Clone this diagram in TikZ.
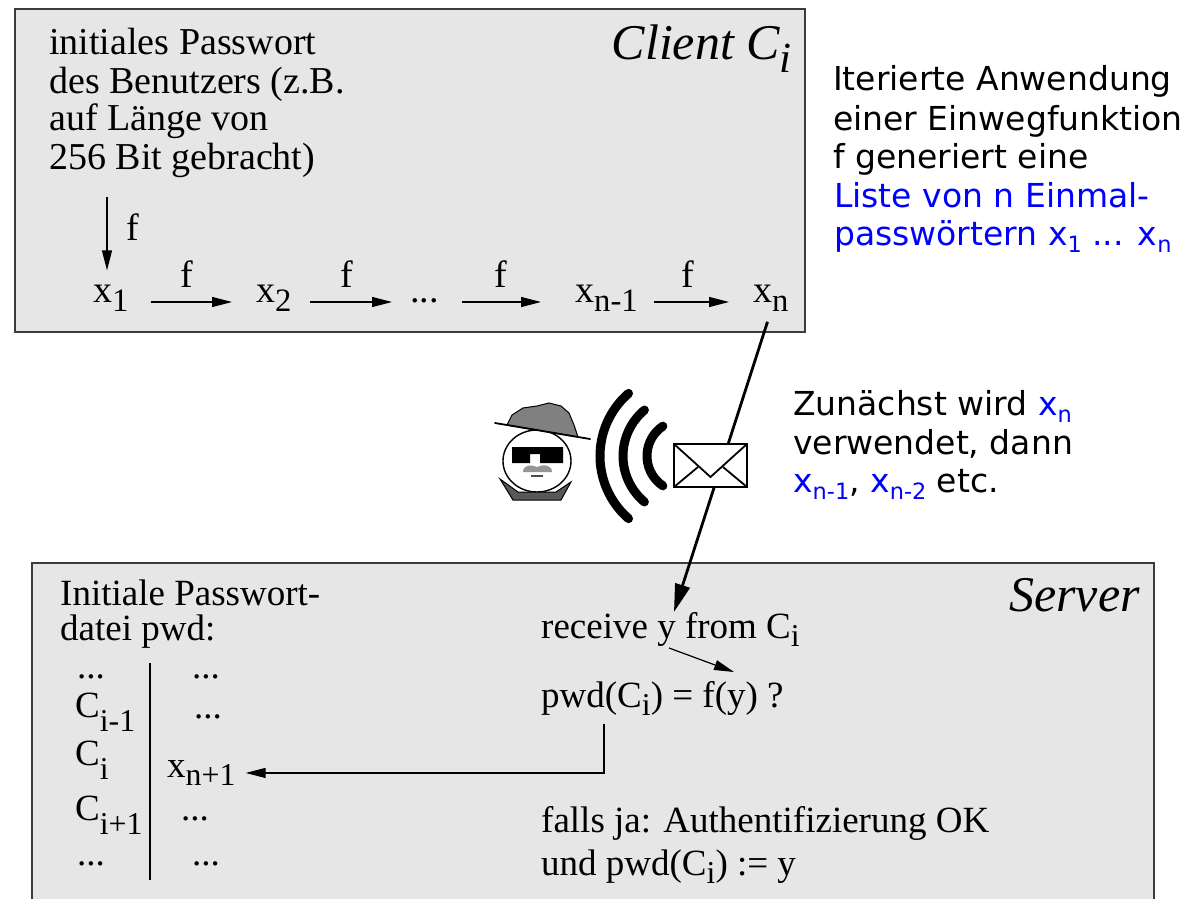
\documentclass[tikz,border=0pt]{standalone}
\usepackage{fontspec}
\usepackage{graphicx}
\setmainfont{Liberation Serif}
\newfontfamily\notefont{DejaVu Sans}
\usetikzlibrary{arrows.meta}

% lowered subscripts in text fonts
\newcommand\lo[2][0.24em]{\raisebox{-#1}{\scalebox{0.86}{#2}}}
\newcommand\ns[1]{\raisebox{-0.22em}{\scalebox{0.68}{#1}}}

\definecolor{panelgray}{RGB}{230,230,230}
\definecolor{edgegray}{RGB}{60,60,60}
\definecolor{hatgray}{RGB}{128,128,128}
\definecolor{collargray}{RGB}{88,88,88}
\definecolor{mustgray}{RGB}{150,150,150}
\definecolor{noteblue}{RGB}{0,0,255}

\begin{document}
\begin{tikzpicture}[x=1pt,y=-1pt,
  panel/.style={fill=panelgray},
  edge/.style={draw=edgegray,line width=1.8pt},
  cl/.style={font=\fontsize{38}{38}\selectfont,inner sep=0pt,anchor=base west},
  sv/.style={font=\fontsize{37}{37}\selectfont,inner sep=0pt,anchor=base west},
  title/.style={font=\itshape\fontsize{50}{50}\selectfont,inner sep=0pt,anchor=base east},
  note/.style={font=\notefont\fontsize{33}{33}\selectfont,inner sep=0pt,anchor=base west},
  flow/.style={line width=1.2pt,-{Triangle[length=20pt,width=10pt]}},
  wire/.style={line width=2.8pt,-{Triangle[length=28pt,width=15pt]}},
  wave/.style={line width=9pt,line cap=round}]
\useasboundingbox (0,0) rectangle (1195,899);

% ---------------- client panel ----------------
\fill[panel] (15,9) rectangle (805,332);
\draw[edge] (15,9) rectangle (805,332);

\node[title] (client) at (792,60) {Client C\lo{i}};
\node[cl] (l1) at (49,55) {initiales Passwort};
\node[cl] (l2) at (49,93) {des Benutzers (z.B.};
\node[cl] (l3) at (49,131) {auf Länge von};
\node[cl] (l4) at (49,169) {256 Bit gebracht)};

\node[cl] (x1) at (93,302) {x\lo{1}};
\node[cl] (x2) at (256,302) {x\lo{2}};
\node[cl] (xd) at (410,302) {...};
\node[cl] (xm) at (575,302) {x\lo{n-1}};
\node[cl] (xn) at (753,302) {x\lo{n}};

\node[cl,anchor=base] (f0) at (133,240) {f};
\node[cl,anchor=base] (f1) at (187,287) {f};
\node[cl,anchor=base] (f2) at (347,287) {f};
\node[cl,anchor=base] (f3) at (501,287) {f};
\node[cl,anchor=base] (f4) at (688,287) {f};

\coordinate (seed) at (107,197);
\draw[flow,shorten >=14pt] (seed) -- (seed |- x1.north);
\draw[flow,shorten <=22pt,shorten >=24pt] (x1.base east) -- (x2.base west);
\draw[flow,shorten <=18pt,shorten >=18pt] (x2.base east) -- (xd.base west);
\draw[flow,shorten <=23pt,shorten >=34pt] (xd.base east) -- (xm.base west);
\draw[flow,shorten <=16pt,shorten >=24pt] (xm.base east) -- (xn.base west);

% ---------------- server panel ----------------
\fill[panel] (32,563) rectangle (1154,899);
\draw[edge] (32,899) -- (32,563) -- (1154,563) -- (1154,899);

\node[title] (server) at (1140,611) {Server};
\node[sv,font=\fontsize{37}{35}\selectfont,align=left,anchor=north west] (ini)
  at (60,580) {Initiale Passwort-\\datei pwd:};

\node[sv] (k0) at (77,678) {...};
\node[sv] (k1) at (75,717) {C\lo[0.4em]{i-1}};
\node[sv] (k2) at (75,765) {C\lo[0.4em]{i}};
\node[sv] (k3) at (75,820) {C\lo[0.4em]{i+1}};
\node[sv] (k4) at (77,865) {...};

\node[sv] (v0) at (192,678) {...};
\node[sv] (v1) at (194,718) {...};
\node[sv] (xnp) at (167,777) {x\lo{n+1}};
\node[sv] (v3) at (181,820) {...};
\node[sv] (v4) at (192,865) {...};
\draw[line width=1.3pt] (150,663) -- (150,880);

\node[sv] (rcv) at (541,638) {receive y from C\lo{i}};
\node[sv] (chk) at (541,707) {pwd(C\lo{i}) = f(y) ?};
\node[sv] (ok1) at (541,832) {falls ja: Authentifizierung OK};
\node[sv] (ok2) at (541,875) {und pwd(C\lo{i}) := y};

\draw[flow] ([xshift=128pt,yshift=-10pt]rcv.base west) -- ([xshift=193pt,yshift=35pt]chk.base west);
\draw[flow,shorten >=10pt] ([xshift=63pt,yshift=-8pt]chk.south west) |- (xnp.east);

% ---------------- transmission ----------------
\coordinate (yin) at (674,612);
\draw[wire,shorten <=11pt] (xn.south) -- (yin);

% envelope
\draw[fill=white,line width=2pt,line join=miter] (674,444) rectangle (747,487);
\draw[line width=1.8pt] (674,444) -- (710.5,477) -- (747,444);
\draw[line width=1.8pt] (674,487) -- (698,467);
\draw[line width=1.8pt] (747,487) -- (723,467);

% radio waves
\draw[wave] (683,456) ++(131:83) arc[start angle=131,end angle=229,radius=83];
\draw[wave] (683,456) ++(130:60) arc[start angle=130,end angle=230,radius=60];
\draw[wave] (683,456) ++(124:36) arc[start angle=124,end angle=236,radius=36];

% eavesdropper
\draw[fill=white,line width=1.4pt] (537,461) ellipse [x radius=34,y radius=31];
\fill[hatgray,draw=black,line width=1pt] (507,425) -- (512,415) -- (523,408) -- (537,406)
  -- (549,403) -- (561,406) -- (569,413) -- (574,425) -- (578,437) -- cycle;
\draw[line width=1.8pt,line cap=round] (495,423) -- (590,439);
\fill[black] (512,447) -- (563,447) -- (563,463) -- (540,463) -- (540,454)
  -- (530,454) -- (530,463) -- (512,463) -- cycle;
\fill[mustgray] (523,472) .. controls (523,465) and (531,464) .. (537,467)
  .. controls (544,464) and (552,465) .. (552,472) -- cycle;
\draw[line width=1.2pt,gray!60!black] (531,476) -- (543,476);
\fill[collargray,draw=black,line width=1pt] (500,479) -- (513,500) -- (561,500)
  -- (571,482) -- (556,492) -- (518,492) -- cycle;

% ---------------- notes ----------------
\node[note] (n1) at (833,91) {Iterierte Anwendung};
\node[note] (n2) at (833,130) {einer Einwegfunktion};
\node[note] (n3) at (833,168) {f generiert eine};
\node[note,text=noteblue] (n4) at (834,207) {Liste von n Einmal-};
\node[note,text=noteblue] (n5) at (834,245) {passwörtern x\ns{1} ... x\ns{n}};

\node[note] (z1) at (793,415) {Zunächst wird \textcolor{noteblue}{x\ns{n}}};
\node[note] (z2) at (793,454) {verwendet, dann};
\node[note] (z3) at (793,492) {\textcolor{noteblue}{x\ns{n-1}}, \textcolor{noteblue}{x\ns{n-2}} etc.};
\end{tikzpicture}
\end{document}
